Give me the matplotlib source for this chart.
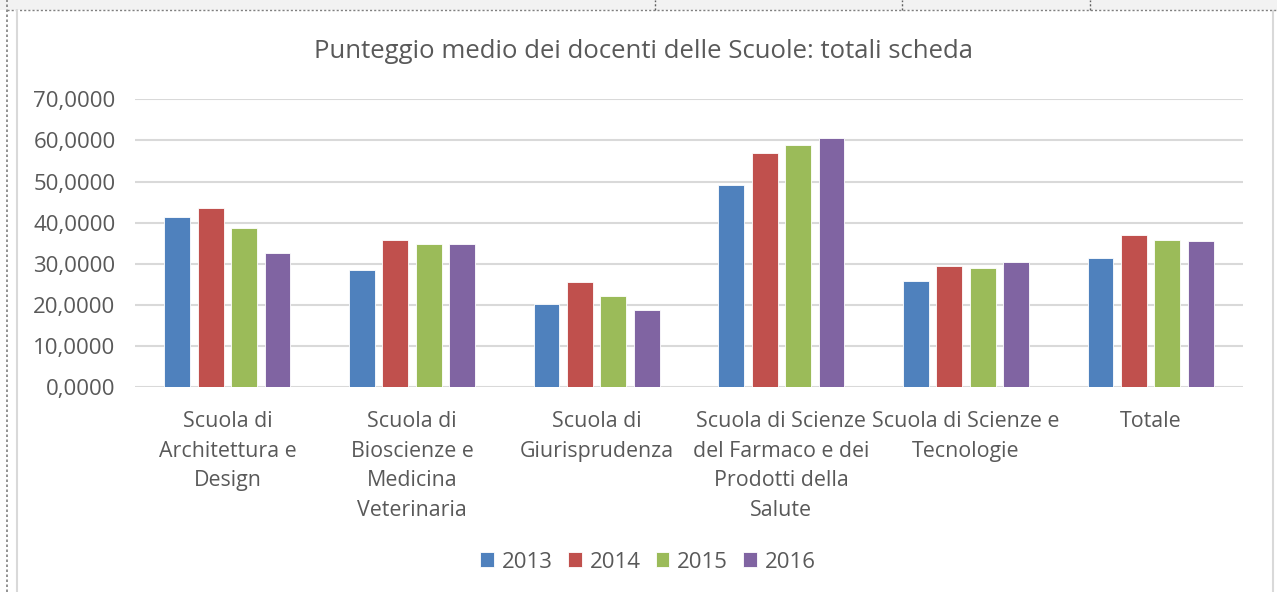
import numpy as np
import matplotlib
matplotlib.use("Agg")
import matplotlib.pyplot as plt
from matplotlib.lines import Line2D
from matplotlib.patches import Rectangle

plt.rcParams['font.family'] = ['Open Sans', 'DejaVu Sans']

# Data
categories = [
    "Scuola di\nArchitettura e\nDesign",
    "Scuola di\nBioscienze e\nMedicina\nVeterinaria",
    "Scuola di\nGiurisprudenza",
    "Scuola di Scienze\ndel Farmaco e dei\nProdotti della\nSalute",
    "Scuola di Scienze e\nTecnologie",
    "Totale",
]
years = ["2013", "2014", "2015", "2016"]
v2013 = [41.3, 28.5, 20.3, 49.2, 25.9, 31.4]
v2014 = [43.7, 35.8, 25.7, 57.0, 29.6, 36.9]
v2015 = [38.8, 34.9, 22.1, 59.0, 28.9, 35.8]
v2016 = [32.6, 34.9, 18.8, 60.5, 30.4, 35.5]
yticks = [0, 10, 20, 30, 40, 50, 60, 70]

series = [v2013, v2014, v2015, v2016]
colors = ["#4F81BD", "#C0504D", "#9BBB59", "#8064A2"]
text_col = "#595959"
grid_col = "#D9D9D9"

W, H = 1277, 592
fig = plt.figure(figsize=(W / 100, H / 100), dpi=100)

# page decoration around the chart object
fig.patches.append(Rectangle((0, 1 - 9.5 / H), 1, 9.5 / H, transform=fig.transFigure,
                             facecolor="#F2F2F2", edgecolor="none", zorder=0))
fig.lines.append(Line2D([7 / W, 1], [1 - 9.5 / H] * 2, transform=fig.transFigure,
                        color="#808080", lw=1, ls=(0, (1.5, 1.5))))
fig.lines.append(Line2D([7 / W] * 2, [0, 1], transform=fig.transFigure,
                        color="#808080", lw=1.2, ls=(0, (1.5, 1.5))))
for xp in [655, 902, 1090]:
    fig.lines.append(Line2D([xp / W] * 2, [1 - 9.5 / H, 1], transform=fig.transFigure,
                            color="#606060", lw=1, ls=(0, (1.5, 1.5))))
for xp in [16.5, 1272.5]:
    fig.lines.append(Line2D([xp / W] * 2, [0, 1 - 10.5 / H], transform=fig.transFigure,
                            color=grid_col, lw=1.5))

left, right, top, bottom = 135, 1243, 99.3, 387.3
ax = fig.add_axes([left / W, 1 - bottom / H, (right - left) / W, (bottom - top) / H])

x = np.arange(len(categories))
width = 0.14
pitch = 0.181
for i, (vals, c, yr) in enumerate(zip(series, colors, years)):
    ax.bar(x + (i - 1.5) * pitch, vals, width, color=c, edgecolor="white",
           linewidth=0.6, label=yr, zorder=3)

ax.set_xlim(-0.5, len(categories) - 0.5)
ax.set_ylim(0, 70)
ax.set_yticks(yticks)
ax.set_yticklabels(["{:.4f}".format(t).replace(".", ",") for t in yticks],
                   fontsize=16, color=text_col)
ax.set_xticks(x)
ax.set_xticklabels(categories, fontsize=15.4, color=text_col, linespacing=1.54)
ax.tick_params(axis="y", length=0, pad=14)
ax.tick_params(axis="x", length=0, pad=17)
ax.grid(axis="y", color=grid_col, lw=1.5, zorder=0)
for s in ax.spines.values():
    s.set_visible(False)

fig.text(644 / W, 1 - 52 / H, "Punteggio medio dei docenti delle Scuole: totali scheda",
         ha="center", va="center", fontsize=18.5, color=text_col)

fig.legend(loc="center", bbox_to_anchor=(648 / W, 1 - 562 / H), ncol=4, frameon=False,
           fontsize=16, handlelength=0.62, handleheight=0.62, handletextpad=0.35,
           columnspacing=0.68, labelcolor=text_col)

fig.savefig("out.png", dpi=100)
